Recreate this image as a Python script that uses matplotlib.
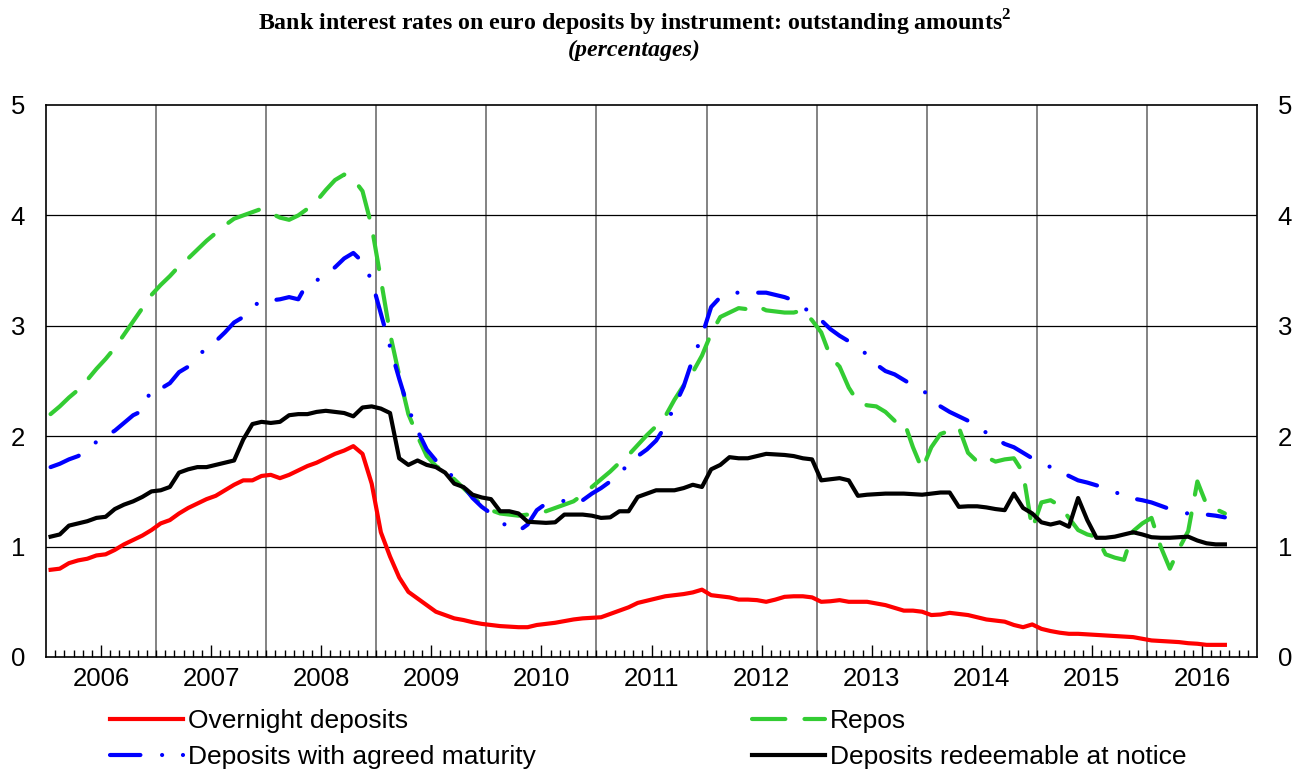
import matplotlib
matplotlib.use("Agg")
import matplotlib.pyplot as plt
import numpy as np

# monthly data, Jan 2006 - Sep 2016 (percentages)
years = list(range(2006, 2017))

overnight = [0.79, 0.80, 0.85, 0.875, 0.89, 0.92, 0.93, 0.97, 1.02, 1.06, 1.10, 1.15,
             1.21, 1.24, 1.30, 1.35, 1.39, 1.43, 1.46, 1.51, 1.56, 1.60, 1.60, 1.64,
             1.65, 1.62, 1.65, 1.69, 1.73, 1.76, 1.80, 1.84, 1.87, 1.91, 1.84, 1.57,
             1.13, 0.91, 0.72, 0.59, 0.53, 0.47, 0.41, 0.38, 0.35, 0.335, 0.315, 0.30,
             0.29, 0.28, 0.275, 0.27, 0.27, 0.29, 0.30, 0.31, 0.325, 0.34, 0.35, 0.355,
             0.36, 0.39, 0.42, 0.45, 0.49, 0.51, 0.53, 0.55, 0.56, 0.57, 0.585, 0.61,
             0.56, 0.55, 0.54, 0.52, 0.52, 0.515, 0.50, 0.52, 0.545, 0.55, 0.55, 0.54,
             0.50, 0.505, 0.515, 0.50, 0.50, 0.50, 0.485, 0.47, 0.445, 0.42, 0.42, 0.41,
             0.38, 0.385, 0.40, 0.39, 0.38, 0.36, 0.34, 0.33, 0.32, 0.29, 0.27, 0.295,
             0.255, 0.235, 0.22, 0.21, 0.21, 0.205, 0.20, 0.195, 0.19, 0.185, 0.18, 0.165,
             0.15, 0.145, 0.14, 0.135, 0.125, 0.12, 0.11, 0.11, 0.11]

agreed = [1.72, 1.75, 1.79, 1.82, 1.87, 1.95, 2.00, 2.05, 2.12, 2.19, 2.23, 2.43,
          2.43, 2.48, 2.58, 2.63, 2.72, 2.80, 2.86, 2.94, 3.03, 3.08, 3.17, 3.23,
          3.23, 3.24, 3.26, 3.24, 3.39, 3.41, 3.47, 3.53, 3.61, 3.66, 3.58, 3.41,
          3.11, 2.81, 2.52, 2.25, 2.05, 1.88, 1.78, 1.70, 1.62, 1.55, 1.44, 1.36,
          1.30, 1.23, 1.17, 1.14, 1.20, 1.33, 1.39, 1.40, 1.415, 1.39, 1.42, 1.48,
          1.53, 1.59, 1.67, 1.74, 1.82, 1.88, 1.96, 2.09, 2.27, 2.45, 2.70, 2.91,
          3.17, 3.26, 3.30, 3.30, 3.29, 3.30, 3.30, 3.28, 3.26, 3.23, 3.17, 3.11,
          3.05, 2.97, 2.91, 2.86, 2.80, 2.74, 2.65, 2.59, 2.56, 2.51, 2.46, 2.42,
          2.35, 2.27, 2.22, 2.18, 2.14, 2.10, 2.03, 1.98, 1.93, 1.90, 1.85, 1.80,
          1.76, 1.72, 1.68, 1.64, 1.60, 1.58, 1.555, 1.53, 1.495, 1.46, 1.435, 1.42,
          1.40, 1.37, 1.34, 1.31, 1.30, 1.29, 1.29, 1.28, 1.265]

repos = [2.20, 2.27, 2.35, 2.42, 2.51, 2.61, 2.70, 2.80, 2.92, 3.04, 3.16, 3.28,
         3.37, 3.45, 3.54, 3.61, 3.69, 3.77, 3.84, 3.91, 3.97, 4.00, 4.03, 4.06,
         4.02, 3.98, 3.96, 4.00, 4.06, 4.13, 4.23, 4.32, 4.37, 4.33, 4.22, 3.90,
         3.42, 2.93, 2.55, 2.20, 2.00, 1.82, 1.73, 1.68, 1.61, 1.53, 1.45, 1.38,
         1.33, 1.30, 1.29, 1.28, 1.29, 1.30, 1.32, 1.35, 1.38, 1.41, 1.47, 1.54,
         1.61, 1.68, 1.76, 1.83, 1.92, 2.01, 2.09, 2.18, 2.33, 2.46, 2.58, 2.73,
         2.93, 3.08, 3.12, 3.16, 3.15, 3.18, 3.14, 3.13, 3.12, 3.12, 3.14, 3.05,
         2.94, 2.72, 2.63, 2.44, 2.31, 2.28, 2.27, 2.22, 2.14, 2.14, 1.90, 1.70,
         1.90, 2.02, 2.05, 2.08, 1.85, 1.77, 1.81, 1.77, 1.79, 1.80, 1.67, 1.16,
         1.40, 1.42, 1.37, 1.26, 1.15, 1.11, 1.09, 0.93, 0.90, 0.88, 1.14, 1.21,
         1.26, 1.00, 0.80, 0.98, 1.14, 1.59, 1.38, 1.34, 1.30]

notice = [1.09, 1.11, 1.19, 1.21, 1.23, 1.26, 1.27, 1.34, 1.38, 1.41, 1.45, 1.50,
          1.51, 1.54, 1.67, 1.70, 1.72, 1.72, 1.74, 1.76, 1.78, 1.97, 2.11, 2.13,
          2.12, 2.13, 2.19, 2.20, 2.20, 2.22, 2.23, 2.22, 2.21, 2.18, 2.26, 2.27,
          2.25, 2.21, 1.80, 1.74, 1.78, 1.74, 1.72, 1.67, 1.57, 1.54, 1.47, 1.445,
          1.43, 1.32, 1.32, 1.30, 1.225, 1.22, 1.215, 1.22, 1.29, 1.29, 1.29, 1.28,
          1.26, 1.265, 1.32, 1.32, 1.45, 1.48, 1.51, 1.51, 1.51, 1.53, 1.56, 1.54,
          1.70, 1.74, 1.81, 1.80, 1.80, 1.82, 1.84, 1.835, 1.83, 1.82, 1.80, 1.79,
          1.60, 1.61, 1.62, 1.60, 1.46, 1.47, 1.475, 1.48, 1.48, 1.48, 1.475, 1.47,
          1.48, 1.49, 1.49, 1.36, 1.365, 1.365, 1.355, 1.34, 1.33, 1.48, 1.35, 1.30,
          1.22, 1.20, 1.22, 1.18, 1.44, 1.24, 1.08, 1.08, 1.09, 1.11, 1.13, 1.11,
          1.085, 1.08, 1.08, 1.085, 1.09, 1.055, 1.03, 1.02, 1.02]

months = np.arange(len(overnight)) + 0.5   # plotted at mid-month

plt.rcParams['font.family'] = ['Liberation Sans', 'DejaVu Sans']
plt.rcParams['mathtext.fontset'] = 'custom'
plt.rcParams['mathtext.bf'] = 'Liberation Serif:bold'
plt.rcParams['mathtext.rm'] = 'Liberation Serif'

W, H = 1303, 771
fig = plt.figure(figsize=(W / 100, H / 100), dpi=100)
ax = fig.add_axes([46 / W, 1 - 657 / H, 1211 / W, 552 / H])

# grid
for k in range(12, 132, 12):
    ax.axvline(k, color='#6e6e6e', lw=1.2, zorder=1)
for v in range(1, 5):
    ax.axhline(v, color='black', lw=0.9, zorder=1)

green_dash = [8, 4.6]
blue_dash = [7.3, 5.2, 0.01, 5.0]

l_rep, = ax.plot(months, repos, color='#33cc33', lw=3, dashes=green_dash,
                 dash_capstyle='round', zorder=3, label='Repos')
l_agr, = ax.plot(months, agreed, color='#0000ff', lw=3, dashes=blue_dash,
                 dash_capstyle='round', zorder=4, label='Deposits with agreed maturity')
l_ov, = ax.plot(months, overnight, color='#ff0000', lw=3, solid_joinstyle='round',
                zorder=5, label='Overnight deposits')
l_not, = ax.plot(months, notice, color='black', lw=3, solid_joinstyle='round',
                 zorder=6, label='Deposits redeemable at notice')

ax.set_xlim(0, 132)
ax.set_ylim(0, 5)
ax.set_yticks(range(6))
ax.tick_params(axis='y', length=0, pad=15, labelsize=18.5, labelright=True)

ax.set_xticks(np.arange(6, 132, 12))
ax.set_xticklabels([str(y) for y in years])
ax.set_xticks([k for k in range(1, 132) if k % 12 != 6], minor=True)
ax.tick_params(axis='x', which='major', direction='in', length=9, width=1,
               pad=7, labelsize=18.5)
ax.tick_params(axis='x', which='minor', direction='in', length=5.4, width=1)

for s in ax.spines.values():
    s.set_linewidth(1.2)
    s.set_zorder(7)

fig.text(635 / W, 1 - 30 / H,
         r'Bank interest rates on euro deposits by instrument: outstanding amounts$^{\mathbf{2}}$',
         ha='center', va='baseline', fontsize=17.2, fontweight='bold',
         fontfamily='Liberation Serif')
fig.text(634 / W, 1 - 56 / H, '(percentages)', ha='center', va='baseline',
         fontsize=17.2, fontweight='bold', fontstyle='italic',
         fontfamily='Liberation Serif')

leg_kw = dict(loc='upper left', frameon=False, fontsize=19, handlelength=2.75,
              handletextpad=0.19, borderpad=0, borderaxespad=0, labelspacing=0.45)
fig.legend([l_ov, l_agr], ['Overnight deposits', 'Deposits with agreed maturity'],
           bbox_to_anchor=(110 / W, 1 - 709 / H), **leg_kw)
fig.legend([l_rep, l_not], ['Repos', 'Deposits redeemable at notice'],
           bbox_to_anchor=(752 / W, 1 - 709 / H), **leg_kw)

fig.savefig('out.png', dpi=100)
